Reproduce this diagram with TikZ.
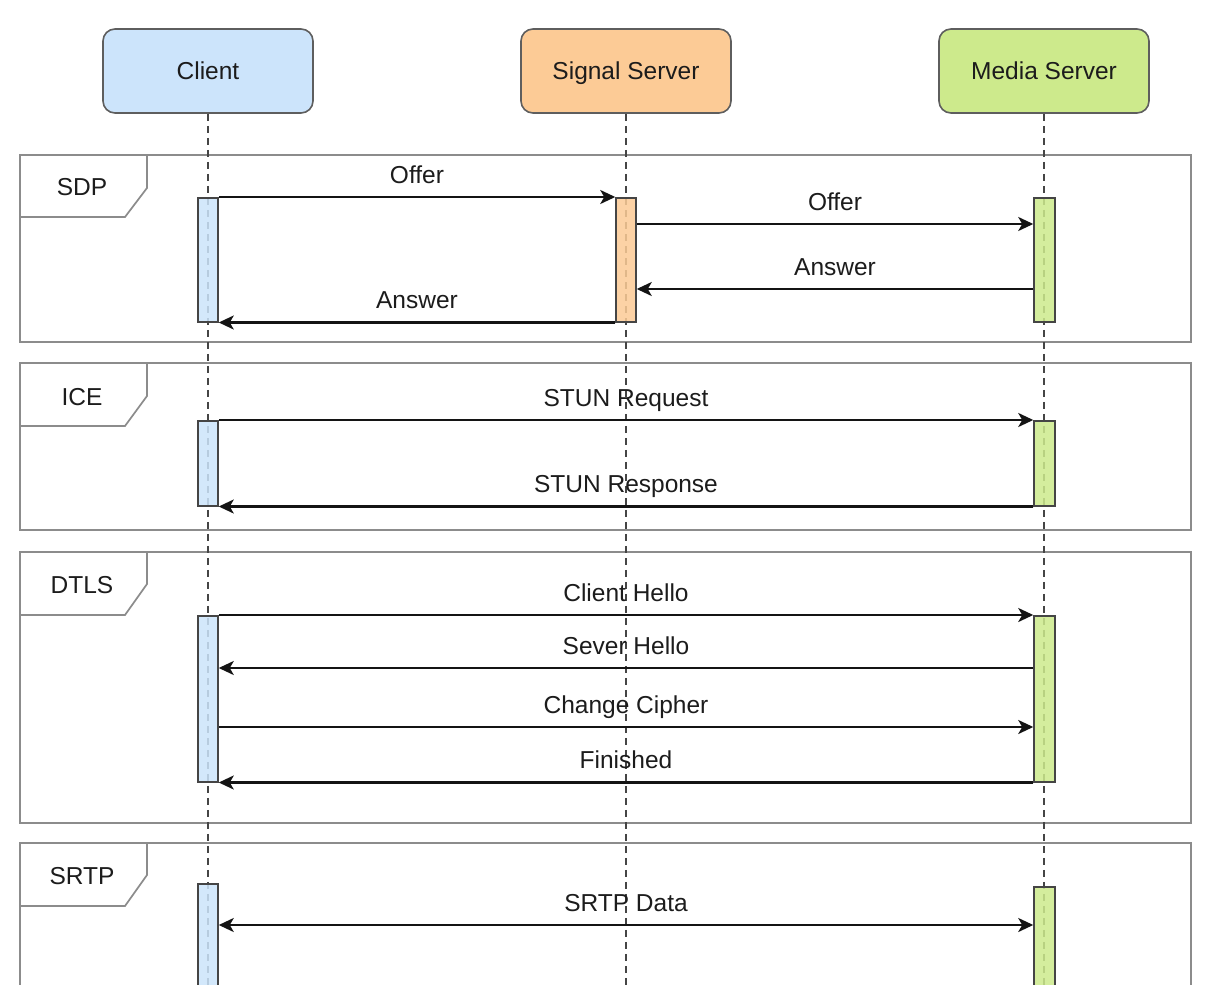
\documentclass[tikz,border=0pt]{standalone}
\usepackage{fontspec}
\setmainfont{Liberation Sans}
\usetikzlibrary{arrows.meta}
\definecolor{clientfill}{HTML}{CCE4FB}
\definecolor{signalfill}{HTML}{FCCB96}
\definecolor{mediafill}{HTML}{CDEA8C}
\definecolor{ink}{HTML}{1C1C1C}
\definecolor{boxline}{HTML}{5E5E5E}
\definecolor{frameline}{HTML}{8C8C8C}
\definecolor{lifegray}{HTML}{454545}
\tikzset{
  actor/.style={draw=boxline, line width=1.6pt, rounded corners=12pt,
    minimum width=210pt, minimum height=84pt, text=ink,
    text height=17.5pt, text depth=0pt,
    font=\fontsize{24.5}{29}\selectfont},
  actbar/.style={draw=lifegray, line width=1.5pt, minimum width=20pt,
    inner sep=0pt, anchor=north, fill opacity=0.85},
  lifeline/.style={draw=lifegray, line width=1.4pt, dash pattern=on 7pt off 5pt},
  frame/.style={draw=frameline, line width=1.7pt},
  framelbl/.style={anchor=base, text=ink, font=\fontsize{24.5}{29}\selectfont},
  msg/.style={draw=black!92, line width=2.3pt,
    -{Stealth[length=15pt,width=14pt,inset=4pt]}},
  dmsg/.style={draw=black!92, line width=2.3pt,
    {Stealth[length=15pt,width=14pt,inset=4pt]}-{Stealth[length=15pt,width=14pt,inset=4pt]}},
  lbl/.style={midway, anchor=base, yshift=14pt, text=ink, inner sep=0pt,
    font=\fontsize{24.5}{29}\selectfont},
}
\begin{document}
\begin{tikzpicture}[x=1pt, y=-1pt]
\useasboundingbox (0,0) rectangle (1205,985);
\clip (0,0) rectangle (1205,985);
\fill[white] (0,0) rectangle (1205,985);

% participants
\node[actor, fill=clientfill] (client) at (208,71) {Client};
\node[actor, fill=signalfill] (signal) at (626,71) {Signal Server};
\node[actor, fill=mediafill]  (media)  at (1044,71) {Media Server};

% lifeline ends below the page edge
\coordinate (clientEnd) at (208,1000);
\coordinate (signalEnd) at (626,1000);
\coordinate (mediaEnd)  at (1044,1000);

% interaction frames
\draw[frame] (20,155) rectangle (1191,342);
\draw[frame] (147,155) -- (147,188) -- (125,217) -- (20,217);
\node[framelbl] (sdp) at (82,195) {SDP};

\draw[frame] (20,363) rectangle (1191,530);
\draw[frame] (147,363) -- (147,396) -- (125,426) -- (20,426);
\node[framelbl] (ice) at (82,405) {ICE};

\draw[frame] (20,552) rectangle (1191,823);
\draw[frame] (147,552) -- (147,584) -- (125,615) -- (20,615);
\node[framelbl] (dtls) at (82,593) {DTLS};

\draw[frame] (20,843) rectangle (1191,1010);
\draw[frame] (147,843) -- (147,875) -- (125,906) -- (20,906);
\node[framelbl] (srtp) at (82,884) {SRTP};

% lifelines (behind the activation bars)
\draw[lifeline] (client.south) -- (clientEnd);
\draw[lifeline] (signal.south) -- (signalEnd);
\draw[lifeline] (media.south)  -- (mediaEnd);

% activation bars
\node[actbar, fill=clientfill, minimum height=124pt] (c1) at (208,197) {};
\node[actbar, fill=signalfill, minimum height=124pt] (s1) at (626,197) {};
\node[actbar, fill=mediafill,  minimum height=124pt, minimum width=21pt] (m1) at (1044.5,197) {};

\node[actbar, fill=clientfill, minimum height=85pt] (c2) at (208,420) {};
\node[actbar, fill=mediafill,  minimum height=85pt, minimum width=21pt] (m2) at (1044.5,420) {};

\node[actbar, fill=clientfill, minimum height=166pt] (c3) at (208,615) {};
\node[actbar, fill=mediafill,  minimum height=166pt, minimum width=21pt] (m3) at (1044.5,615) {};

\node[actbar, fill=clientfill, minimum height=130pt] (c4) at (208,883) {};
\node[actbar, fill=mediafill,  minimum height=130pt, minimum width=21pt] (m4) at (1044.5,886) {};

% SDP exchange
\draw[msg] (c1.north east) -- node[lbl] {Offer} (s1.north west);
\draw[msg] (s1.east |- 0,224) -- node[lbl] {Offer} (m1.west |- 0,224);
\draw[msg] (m1.west |- 0,289) -- node[lbl] {Answer} (s1.east |- 0,289);
\draw[msg] (s1.south west) -- node[lbl] {Answer} (c1.south east);

% ICE connectivity check
\draw[msg] (c2.north east) -- node[lbl] {STUN Request} (m2.north west);
\draw[msg] (m2.south west) -- node[lbl] {STUN Response} (c2.south east);

% DTLS handshake
\draw[msg] (c3.north east) -- node[lbl] {Client Hello} (m3.north west);
\draw[msg] (m3.west |- 0,668) -- node[lbl] {Sever Hello} (c3.east |- 0,668);
\draw[msg] (c3.east |- 0,727) -- node[lbl] {Change Cipher} (m3.west |- 0,727);
\draw[msg] (m3.south west) -- node[lbl] {Finished} (c3.south east);

% media flow
\draw[dmsg] (c4.east |- 0,925) -- node[lbl] {SRTP Data} (m4.west |- 0,925);
\end{tikzpicture}
\end{document}
